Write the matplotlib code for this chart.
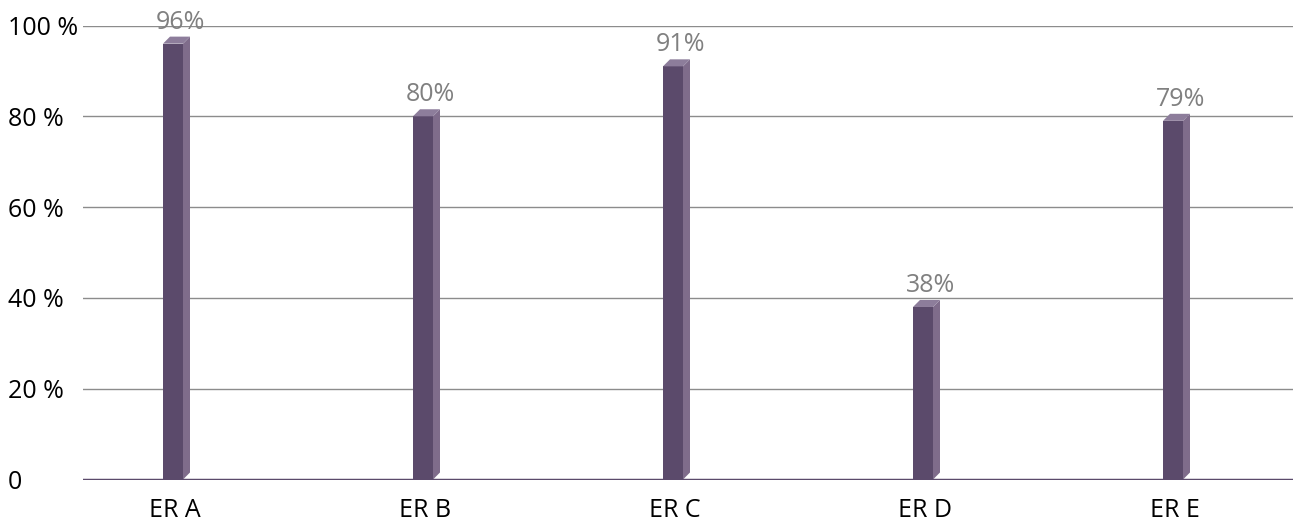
import matplotlib
matplotlib.use('Agg')
import matplotlib.pyplot as plt
from matplotlib.patches import Polygon

plt.rcParams['font.family'] = ['Open Sans', 'DejaVu Sans']

categories = ['ER A', 'ER B', 'ER C', 'ER D', 'ER E']
values = [96, 80, 91, 38, 79]
yticks = [0, 20, 40, 60, 80, 100]
ytick_labels = ['0', '20 %', '40 %', '60 %', '80 %', '100 %']

front_c = '#5b4a6b'
side_c = '#7f6c8b'
top_c = '#8d7d9b'

fig = plt.figure(figsize=(12.93, 5.25), dpi=100)
ax = fig.add_axes([83 / 1293, 45.5 / 525, 1 - 83 / 1293, 454 / 525])
ax.set_xlim(-0.368, 4.472)
ax.set_ylim(0, 100)

for s in ax.spines.values():
    s.set_visible(False)

# horizontal grid lines
for t in yticks[1:]:
    ax.axhline(t, color='#8c8c8c', lw=1, zorder=1)

# bars: front face + side + top for a flat 3d look
w = 0.08
dx = 0.028
dy = 1.55
xs = [i - 0.008 for i in range(len(values))]
ax.bar(xs, values, width=w, color=front_c, zorder=3)
for x, v in zip(xs, values):
    x0, x1 = x - w / 2, x + w / 2
    ax.add_patch(Polygon([(x1, 0), (x1, v), (x1 + dx, v + dy), (x1 + dx, dy)],
                         closed=True, fc=side_c, ec='none', zorder=3))
    ax.add_patch(Polygon([(x0, v), (x1, v), (x1 + dx, v + dy), (x0 + dx, v + dy)],
                         closed=True, fc=top_c, ec='none', zorder=3))
    ax.text(x + 0.03, v + dy + 3.2, f'{v}%', ha='center', va='center',
            fontsize=18, color='#808080', zorder=4)

ax.axhline(0, color=front_c, lw=2.5, zorder=4)

ax.set_xticks(range(len(categories)))
ax.set_xticklabels(categories, fontsize=18)
ax.set_yticks(yticks)
ax.set_yticklabels(ytick_labels, fontsize=18)
ax.tick_params(axis='x', length=0, pad=13)
ax.tick_params(axis='y', length=0, pad=54)
for lbl in ax.get_yticklabels():
    lbl.set_horizontalalignment('left')

fig.savefig('out.png', dpi=100)
